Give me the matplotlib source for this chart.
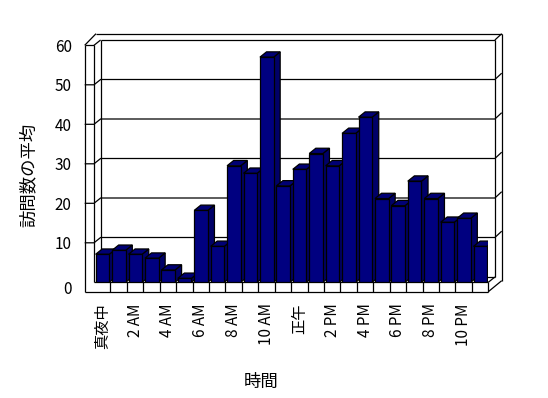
import numpy as np
import matplotlib
matplotlib.use("Agg")
import matplotlib.pyplot as plt
from matplotlib.patches import Polygon
from matplotlib.transforms import ScaledTranslation

plt.rcParams['font.family'] = ['Noto Sans CJK JP', 'DejaVu Sans']

# hours of the day (category names) and average visits
hours = ['真夜中', '1 AM', '2 AM', '3 AM', '4 AM', '5 AM', '6 AM', '7 AM',
         '8 AM', '9 AM', '10 AM', '11 AM', '正午', '1 PM', '2 PM', '3 PM',
         '4 PM', '5 PM', '6 PM', '7 PM', '8 PM', '9 PM', '10 PM', '11 PM']
visits = [7.1, 8.1, 7.1, 6.1, 3.1, 1.0, 18.2, 9.1, 29.5, 27.6, 57.0, 24.4,
          28.6, 32.6, 29.5, 37.7, 41.8, 21.2, 19.4, 25.6, 21.2, 15.2, 16.2, 9.1]
yticks = [0, 10, 20, 30, 40, 50, 60]

W, H = 548, 398
fig = plt.figure(figsize=(W / 100, H / 100), dpi=100)
# front plane of the 3d box in pixels
x0, x1, ytop, ybot = 94, 488.3, 45.3, 282.3
ax = fig.add_axes([x0 / W, 1 - ybot / H, (x1 - x0) / W, (ybot - ytop) / H])
n = len(hours)
ax.set_xlim(0, n)
ax.set_ylim(0, 60)
for s in ax.spines.values():
    s.set_visible(False)

pxx = (x1 - x0) / n
pxy = (ybot - ytop) / 60.0
ddx, ddy = 6.6 / pxx, 5.3 / pxy        # depth of the box
wall = 9.3 / pxx                        # left wall thickness
flo = 9.4 / pxy                         # floor thickness
otop = 60 + 11.6 / pxy                  # outer top of back wall
oright = n + 13.4 / pxx
rise = otop - 60 - ddy                  # slant on the right edge of back wall
k = dict(color='black', lw=0.9, clip_on=False, solid_capstyle='butt')

# walls
ax.plot([-wall, -wall], [-flo, 60], **k)
ax.plot([0, 0], [0, 60], **k)
ax.plot([-wall, 0], [60, 60], **k)
ax.plot([-wall, -wall + 11.3 / pxx], [60, otop], **k)
ax.plot([-wall + 11.3 / pxx, oright], [otop, otop], **k)
ax.plot([0, ddx], [60, 60 + ddy], **k)
ax.plot([ddx, n + ddx], [60 + ddy, 60 + ddy], **k)
ax.plot([ddx, ddx], [ddy, 60 + ddy], **k)
ax.plot([n + ddx, n + ddx], [ddy, 60 + ddy], **k)
ax.plot([n + ddx, oright], [60 + ddy, otop], **k)
ax.plot([oright, oright], [otop, ddy - 3.7 / pxy], **k)
# floor
ax.plot([-wall, n], [-flo, -flo], **k)
ax.plot([0, n], [0, 0], **k)
ax.plot([n, n], [-flo, 0], **k)
ax.plot([n, oright], [-flo, ddy - 3.7 / pxy], **k)
ax.plot([n, n + ddx], [0, ddy], **k)
ax.plot([ddx, n + ddx], [ddy, ddy], **k)
for i in range(1, n):
    ax.plot([i, i], [-flo, 0], **k)

# gridlines
for v in yticks[1:-1]:
    ax.plot([-wall, 0, ddx, n + ddx, oright],
            [v, v, v + ddy, v + ddy, v + ddy + rise], **k)

# bars with side and top faces
left = np.arange(n) + 0.1
bw = 0.83
bars = ax.bar(left, visits, width=bw, align='edge', color='#000080',
              edgecolor='black', linewidth=0.9)
for i, (p, v) in enumerate(zip(bars, visits)):
    l, r = left[i], left[i] + bw
    side = Polygon([(r, 0), (r + ddx, ddy), (r + ddx, v + ddy), (r, v)],
                   closed=True, fc='#000068', ec='black', lw=0.9, zorder=10 + 2 * i)
    top = Polygon([(l, v), (r, v), (r + ddx, v + ddy), (l + ddx, v + ddy)],
                  closed=True, fc='#000074', ec='black', lw=0.9, zorder=10 + 2 * i)
    ax.add_patch(side)
    ax.add_patch(top)
    p.set_zorder(11 + 2 * i)

ax.set_yticks(yticks)
ax.set_yticklabels([str(v) for v in yticks], fontsize=11)
ax.tick_params(axis='y', length=0, pad=16)
lab0 = ax.get_yticklabels()[0]
lab0.set_transform(lab0.get_transform() + ScaledTranslation(0, -5 / 100, fig.dpi_scale_trans))

ax.set_xticks(np.arange(0, n, 2) + 0.5)
ax.set_xticklabels(hours[::2], rotation=90, fontsize=11)
ax.tick_params(axis='x', length=0, pad=15)

fig.text(28.3 / W, 1 - 175 / H, '訪問数の平均', rotation=90, fontsize=12.5,
         ha='center', va='center')
fig.text(261 / W, 1 - 382 / H, '時間', fontsize=12.5, ha='center', va='center')

fig.savefig('out.png', dpi=100)
